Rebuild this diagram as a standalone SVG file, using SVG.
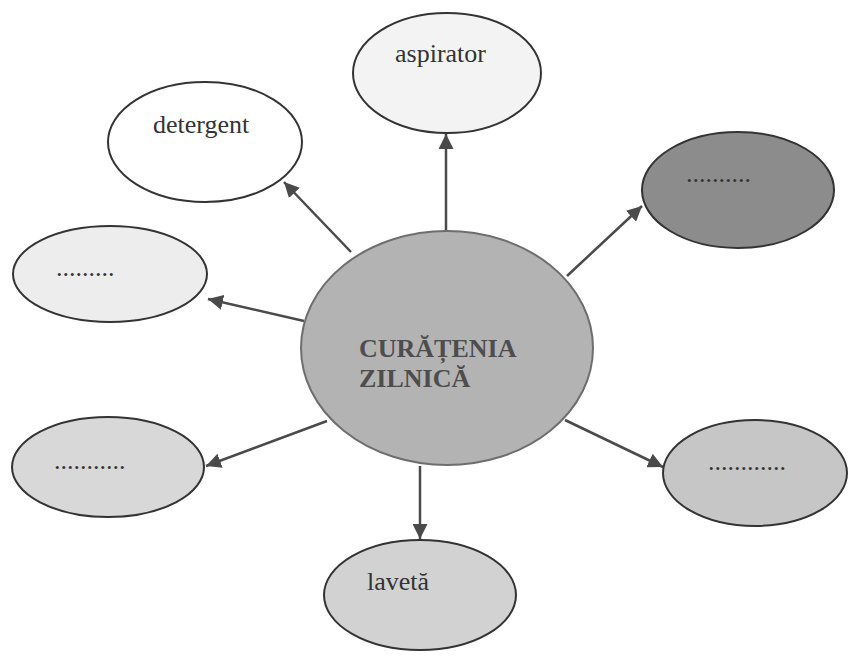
<svg xmlns="http://www.w3.org/2000/svg" width="848" height="657" viewBox="0 0 848 657">
<style>
.n{stroke:#333;stroke-width:2}
.t{font-family:"Liberation Serif","Times New Roman",serif;font-size:26px;fill:#333}
.c{stroke:#4a4a4a;stroke-width:2.5;fill:none;marker-end:url(#ah)}
</style>
<defs>
<marker id="ah" viewBox="0 0 10 10" refX="10" refY="5" markerWidth="6" markerHeight="6" orient="auto" markerUnits="strokeWidth">
<path d="M0,0 L10,5 L0,10 z" fill="#4a4a4a"/>
</marker>
</defs>
<rect width="848" height="657" fill="#fff"/>
<g id="connectors">
<line class="c" x1="446" y1="231" x2="446" y2="134"/>
<line class="c" x1="351" y1="252" x2="284" y2="182"/>
<line class="c" x1="304" y1="321" x2="208" y2="299"/>
<line class="c" x1="327" y1="421" x2="206" y2="466"/>
<line class="c" x1="420" y1="466" x2="420" y2="539"/>
<line class="c" x1="565" y1="420" x2="663" y2="467"/>
<line class="c" x1="567" y1="276" x2="642" y2="206"/>
</g>
<g id="center">
<ellipse cx="447" cy="348" rx="146" ry="117" fill="#b3b3b3" stroke="#6e6e6e" stroke-width="2"/>
<text class="t" x="359" y="357" style="font-weight:bold;fill:#4d4d4d">CURĂȚENIA</text>
<text class="t" x="359" y="387" style="font-weight:bold;fill:#4d4d4d">ZILNICĂ</text>
</g>
<g id="aspirator">
<ellipse class="n" cx="447" cy="73" rx="94" ry="60" fill="#f3f3f3"/>
<text class="t" x="395" y="62">aspirator</text>
</g>
<g id="detergent">
<ellipse class="n" cx="205" cy="142" rx="97" ry="60" fill="#ffffff"/>
<text class="t" x="153" y="133">detergent</text>
</g>
<g id="left-top">
<ellipse class="n" cx="110" cy="274" rx="97" ry="48" fill="#ededed"/>
<text class="t" x="56" y="276">.........</text>
</g>
<g id="right-top">
<ellipse class="n" cx="738" cy="190" rx="96" ry="58" fill="#8c8c8c"/>
<text class="t" x="686" y="182">..........</text>
</g>
<g id="left-bottom">
<ellipse class="n" cx="108" cy="467" rx="96" ry="50" fill="#d8d8d8"/>
<text class="t" x="54" y="469">...........</text>
</g>
<g id="right-bottom">
<ellipse class="n" cx="755" cy="473" rx="92" ry="53" fill="#c6c6c6"/>
<text class="t" x="708" y="470">............</text>
</g>
<g id="laveta">
<ellipse class="n" cx="420" cy="595" rx="96" ry="55" fill="#d2d2d2"/>
<text class="t" x="367" y="590">lavetă</text>
</g>
</svg>
